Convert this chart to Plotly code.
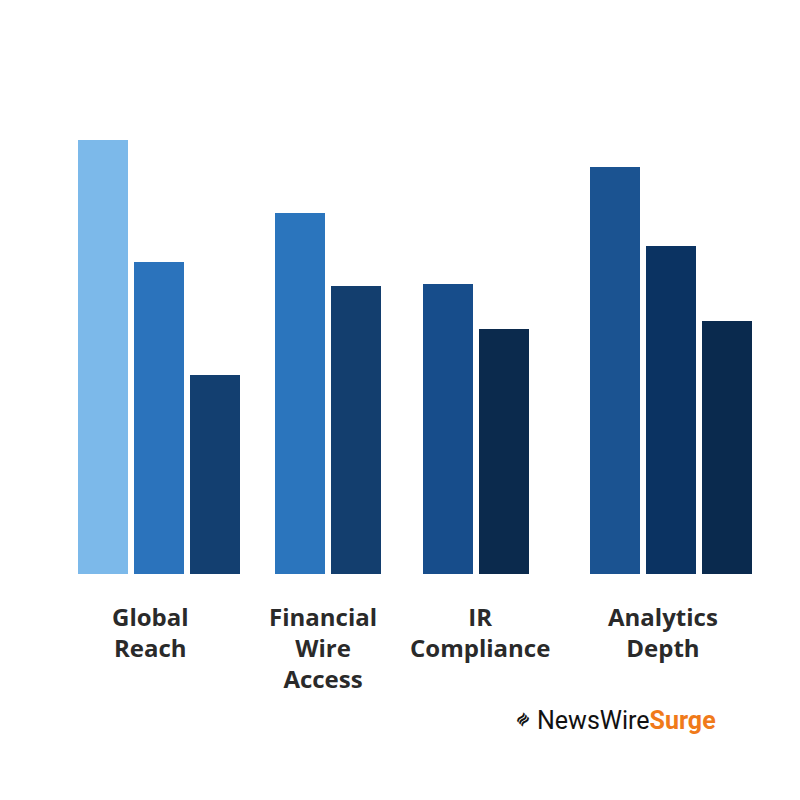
import plotly.graph_objects as go

categories = ["Global<br>Reach", "Financial<br>Wire<br>Access", "IR<br>Compliance", "Analytics<br>Depth"]
values = [[434, 312, 199], [361, 288], [290, 245], [407, 328, 253]]
colors = [["#7cb9ea", "#2b73bc", "#133f70"], ["#2b75bd", "#133e6e"],
          ["#174d8b", "#0b2a4d"], ["#1b5391", "#0b3362", "#0a2a4e"]]

group_start = [78, 275, 423, 590]
bar_w, gap = 50, 6
label_x = [150, 323, 480, 663]

fig = go.Figure()
for g, vals in enumerate(values):
    xs = [group_start[g] + i * (bar_w + gap) + bar_w / 2 for i in range(len(vals))]
    fig.add_trace(go.Bar(x=xs, y=vals, width=bar_w, marker=dict(color=colors[g], line=dict(width=0)),
                         showlegend=False))
    fig.add_annotation(x=label_x[g], y=-24, text="<b>" + categories[g] + "</b>", showarrow=False,
                       yanchor="top", font=dict(family="Open Sans", size=24, color="#2a2a2a"))

fig.add_annotation(x=535, y=-146, xanchor="left", yanchor="middle", showarrow=False,
                   text="<span style='color:#111'>NewsWire</span><b><span style='color:#f07a1a'>Surge</span></b>",
                   font=dict(family="Roboto", size=25))
fig.add_annotation(x=522, y=-146, yanchor="middle", showarrow=False, text="<b>≋</b>",
                   font=dict(size=16, color="#111"), textangle=-45)

fig.update_layout(width=800, height=800, margin=dict(l=0, r=0, t=0, b=0),
                  paper_bgcolor="white", plot_bgcolor="white",
                  xaxis=dict(range=[8, 808], visible=False),
                  yaxis=dict(range=[-234, 566], visible=False))
fig.write_html("out.html")
